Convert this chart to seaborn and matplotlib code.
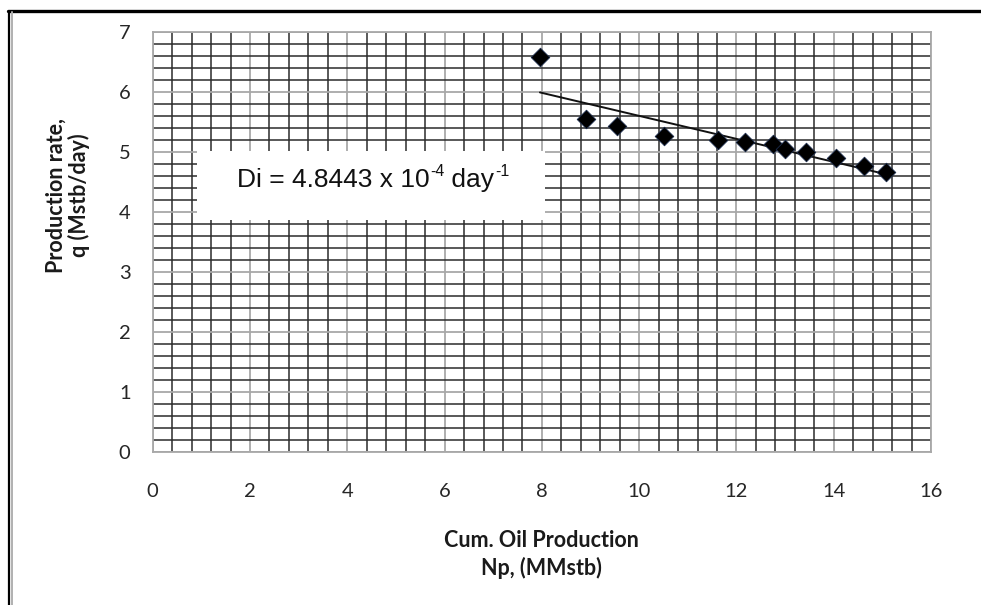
import matplotlib
matplotlib.use("Agg")
import matplotlib.pyplot as plt
import seaborn as sns
import pandas as pd
import numpy as np
from matplotlib.patches import Rectangle
from matplotlib.lines import Line2D
from matplotlib.ticker import MultipleLocator

# Data
cum_np = [7.96, 8.90, 9.54, 10.50, 11.63, 12.17, 12.76, 13.00, 13.43, 14.04, 14.63, 15.07]
rate_q = [6.58, 5.54, 5.43, 5.26, 5.19, 5.16, 5.13, 5.05, 4.99, 4.90, 4.76, 4.66]
x_ticks = [0, 2, 4, 6, 8, 10, 12, 14, 16]
y_ticks = [0, 1, 2, 3, 4, 5, 6, 7]
annot_parts = ["Di = 4.8443 x 10", "-4", " day", "-1"]
x_label = "Cum. Oil Production\nNp, (MMstb)"
y_label = "Production rate,\nq (Mstb/day)"

df = pd.DataFrame({"Np": cum_np, "q": rate_q})

sns.set_style("white")
plt.rcParams["font.family"] = ["Lato", "DejaVu Sans"]

fig = plt.figure(figsize=(9.81, 6.05), dpi=100)
ax = fig.add_axes([0.1557, 0.2529, 0.7934, 0.6947])

major_col = "#a8a8a8"
minor_col = "#2b2b2b"

ax.set_xlim(0, 16)
ax.set_ylim(0, 7)
ax.set_xticks(x_ticks)
ax.set_yticks(y_ticks)
ax.xaxis.set_minor_locator(MultipleLocator(0.4))
ax.yaxis.set_minor_locator(MultipleLocator(0.2))
ax.grid(which="minor", color=minor_col, linewidth=1.1, zorder=0)
ax.grid(which="major", color=major_col, linewidth=1.3, zorder=0)
ax.set_axisbelow(True)
for sp in ax.spines.values():
    sp.set_color(major_col)
    sp.set_linewidth(1.3)

ax.tick_params(axis="both", which="major", direction="out", length=5, width=1.3,
               color=major_col, labelsize=14.5, labelcolor="#262626")
ax.tick_params(axis="x", which="major", pad=17)
ax.tick_params(axis="y", which="major", pad=11)
ax.tick_params(which="minor", length=0)

# Trend line (linear fit) and data points
sns.regplot(data=df, x="Np", y="q", ax=ax, ci=None, scatter=False,
            line_kws={"color": "#111111", "linewidth": 1.4, "zorder": 3})
sns.scatterplot(data=df, x="Np", y="q", ax=ax, marker="D", s=90, color="black",
                edgecolor="#1a2a4a", linewidth=0.6, zorder=4)

ax.set_xlabel(x_label, fontsize=15.5, fontweight="bold", color="#1a1a1a", linespacing=1.3)
ax.set_ylabel(y_label, fontsize=15.5, fontweight="bold", color="#1a1a1a", linespacing=1.1)
ax.xaxis.set_label_coords(0.5, -0.186)
ax.yaxis.set_label_coords(-0.0805, 0.611)

# Annotation box
ax.add_patch(Rectangle((0.057, 0.551), 0.447, 0.166, transform=ax.transAxes,
                       facecolor="white", edgecolor="none", zorder=5))
fs = 19
afont = ["Liberation Sans", "DejaVu Sans"]
t1 = ax.text(0.108, 0.631, annot_parts[0], transform=ax.transAxes, ha="left",
             va="baseline", fontsize=fs, family=afont, color="#111111", zorder=6)
t2 = ax.annotate(annot_parts[1], xy=(1, 1), xycoords=(t1, t1), xytext=(0.5, 3),
                 textcoords="offset points", ha="left", va="top", fontsize=fs * 0.6,
                 family=afont, color="#111111", zorder=6)
t3 = ax.annotate(annot_parts[2], xy=(1, 0), xycoords=(t2, t1), xytext=(0, 0),
                 textcoords="offset points", ha="left", va="bottom", fontsize=fs,
                 family=afont, color="#111111", zorder=6)
t4 = ax.annotate(annot_parts[3], xy=(1, 1), xycoords=(t3, t1), xytext=(0.5, 3),
                 textcoords="offset points", ha="left", va="top", fontsize=fs * 0.6,
                 family=afont, color="#111111", zorder=6)

# Outer frame fragments (top and left)
W, H = 981, 605
fig.add_artist(Line2D([8 / W, 1.0], [1 - 11 / H, 1 - 11 / H], transform=fig.transFigure,
                      color="black", linewidth=2.4))
fig.add_artist(Line2D([9 / W, 9 / W], [0, 1 - 11 / H], transform=fig.transFigure,
                      color="black", linewidth=1.6))
fig.add_artist(Line2D([11.5 / W, 11.5 / W], [0, 1 - 12 / H], transform=fig.transFigure,
                      color="#b0b0b0", linewidth=1.4))

fig.savefig("out.png", dpi=100)
